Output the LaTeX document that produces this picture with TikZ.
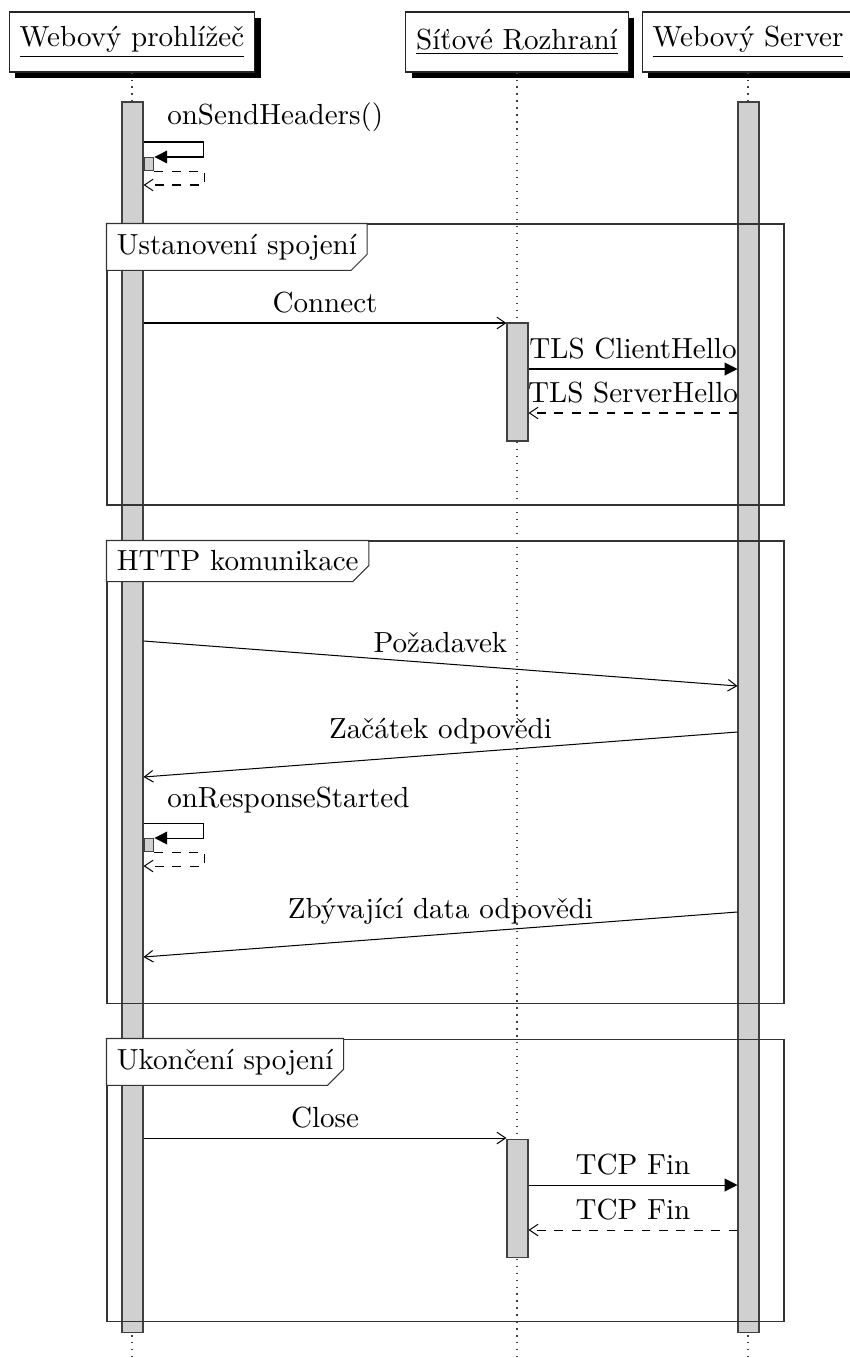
\documentclass[tikz,border=0pt]{standalone}
\usepackage{fontspec}
\usetikzlibrary{arrows.meta, positioning, fit, shadows}
\definecolor{barfill}{RGB}{208,208,208}

\begin{document}
\begin{tikzpicture}[x=0.344pt, y=-0.344pt,
    thread/.style={rectangle, draw=black!85, fill=white, inner xsep=3.6pt, minimum height=20.6pt, drop shadow={shadow xshift=2.05pt, shadow yshift=-2.05pt, fill=black, opacity=1}},
    lifeline/.style={dotted, draw=black!75},
    callbar/.style={rectangle, draw=black!75, line width=0.35pt, fill=barfill, inner sep=0pt},
    selfbar/.style={rectangle, draw=black!75, line width=0.35pt, fill=barfill, inner sep=0pt, minimum width=3.4pt, minimum height=4.5pt, anchor=north west},
    fragbox/.style={rectangle, draw=black!80, line width=0.35pt, inner sep=0pt},
    fraglabel/.style={fill=white, anchor=north west},
    msg/.style={line width=0.35pt, -{Straight Barb[length=3pt, width=4pt]}},
    call/.style={line width=0.35pt, -{Triangle[length=4.4pt, width=4.4pt]}},
    reply/.style={line width=0.35pt, dashed, -{Straight Barb[length=3pt, width=4pt]}}
  ]
  \useasboundingbox (0,0) rectangle (850,1358);

  \node[thread] (brw) at (132,42) {\underline{Webový prohlížeč}};
  \node[thread] (net) at (517,42) {\underline{Síťové Rozhraní}};
  \node[thread] (srv) at (748,42) {\underline{Webový Server}};

  \draw[lifeline] (brw.south) -- (brw.south |- 0,1358);
  \draw[lifeline] (net.south) -- (net.south |- 0,1358);
  \draw[lifeline] (srv.south) -- (srv.south |- 0,1358);

  \node[callbar, fit={(122,102) (143,1332)}] (bbar) {};
  \node[callbar, fit={(738,102) (759,1332)}] (sbar) {};

  % fragments
  \node[fragbox, fit={(107,224) (784,505)}] (frA) {};
  \node[fraglabel] (tabA) at (frA.north west) {Ustanovení spojení};
  \draw[fragbox] (tabA.north west) -- (tabA.north east) -- ([yshift=5.5pt]tabA.south east) -- ([xshift=-5.5pt]tabA.south east) -- (tabA.south west) -- cycle;

  \node[fragbox, fit={(107,541) (784,1003)}] (frB) {};
  \node[fraglabel] (tabB) at (frB.north west) {HTTP komunikace};
  \draw[fragbox] (tabB.north west) -- (tabB.north east) -- ([yshift=5.5pt]tabB.south east) -- ([xshift=-5.5pt]tabB.south east) -- (tabB.south west) -- cycle;

  \node[fragbox, fit={(107,1039) (784,1321)}] (frC) {};
  \node[fraglabel] (tabC) at (frC.north west) {Ukončení spojení};
  \draw[fragbox] (tabC.north west) -- (tabC.north east) -- ([yshift=5.5pt]tabC.south east) -- ([xshift=-5.5pt]tabC.south east) -- (tabC.south west) -- cycle;

  \node[callbar, fit={(507,323) (528,441)}] (nbarA) {};
  \node[callbar, fit={(507,1139) (528,1257)}] (nbarB) {};

  % self calls
  \node[selfbar] (sbA) at (bbar.east |- 0,157) {};
  \node[anchor=south west] (lblA) at (157,142) {onSendHeaders()};
  \draw[call] (bbar.east |- 0,142) -- ++(60,0) |- (sbA.north east);
  \draw[reply] (sbA.south east) -- ++(50,0) |- (bbar.east |- 0,185);

  \node[selfbar] (sbB) at (bbar.east |- 0,838) {};
  \node[anchor=south west] (lblB) at (157,823) {onResponseStarted};
  \draw[call] (bbar.east |- 0,823) -- ++(60,0) |- (sbB.north east);
  \draw[reply] (sbB.south east) -- ++(50,0) |- (bbar.east |- 0,866);

  % messages
  \draw[msg] (bbar.east |- 0,323) -- node[above] {Connect} (nbarA.west |- 0,323);
  \draw[call] (nbarA.east |- 0,369) -- node[above] {TLS ClientHello} (sbar.west |- 0,369);
  \draw[reply] (sbar.west |- 0,413) -- node[above] {TLS ServerHello} (nbarA.east |- 0,413);

  \draw[msg] (bbar.east |- 0,641) -- node[above] {Požadavek} (sbar.west |- 0,686);
  \draw[msg] (sbar.west |- 0,732) -- node[above] {Začátek odpovědi} (bbar.east |- 0,777);
  \draw[msg] (sbar.west |- 0,912) -- node[above] {Zbývající data odpovědi} (bbar.east |- 0,957);

  \draw[msg] (bbar.east |- 0,1138) -- node[above] {Close} (nbarB.west |- 0,1138);
  \draw[call] (nbarB.east |- 0,1185) -- node[above] {TCP Fin} (sbar.west |- 0,1185);
  \draw[reply] (sbar.west |- 0,1230) -- node[above] {TCP Fin} (nbarB.east |- 0,1230);
\end{tikzpicture}
\end{document}
